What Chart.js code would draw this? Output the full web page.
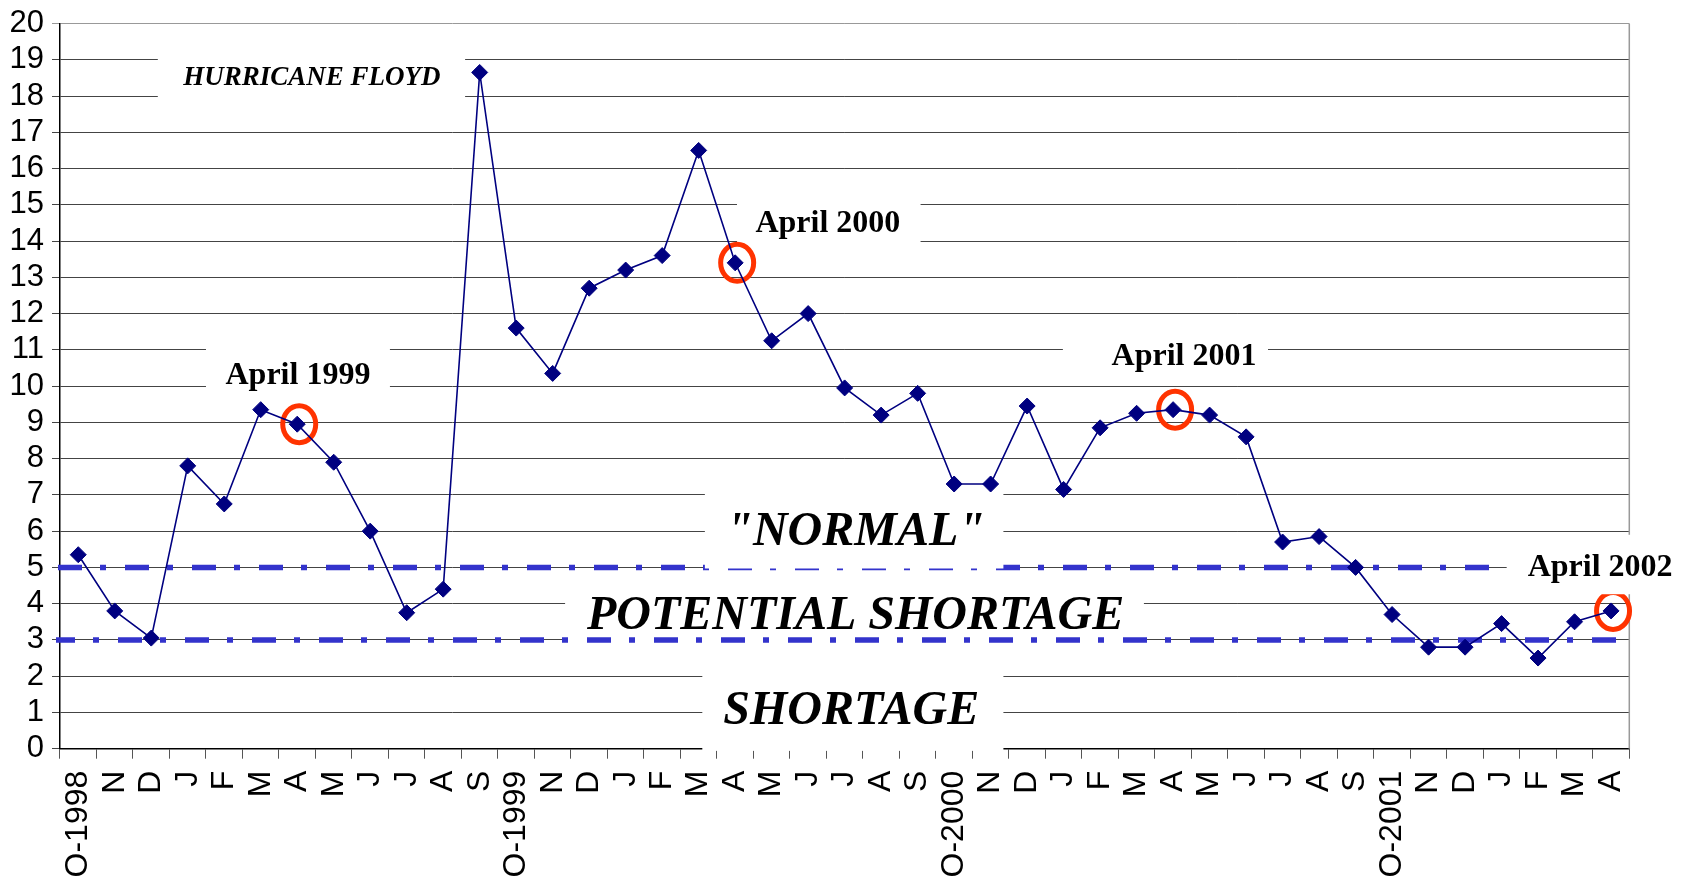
<!DOCTYPE html>
<html>
<head>
<meta charset="utf-8">
<script src="https://cdn.jsdelivr.net/npm/chart.js@4.4.1/dist/chart.umd.min.js"></script>
<style>
  html, body { margin: 0; padding: 0; background: #fff; }
</style>
</head>
<body>
<canvas id="myChart" width="1692" height="881"></canvas>
<script>
// months, Oct 1998 .. Apr 2002
const months = ["O-1998", "N", "D", "J", "F", "M", "A", "M", "J", "J", "A", "S",
  "O-1999", "N", "D", "J", "F", "M", "A", "M", "J", "J", "A", "S",
  "O-2000", "N", "D", "J", "F", "M", "A", "M", "J", "J", "A", "S",
  "O-2001", "N", "D", "J", "F", "M", "A"];

const inventory = [5.35, 3.8, 3.05, 7.8, 6.75, 9.35, 8.95, 7.9, 6.0, 3.75, 4.4, 18.65,
  11.6, 10.35, 12.7, 13.2, 13.6, 16.5, 13.4, 11.25, 12.0, 9.95, 9.2, 9.8,
  7.3, 7.3, 9.45, 7.15, 8.85, 9.25, 9.35, 9.2, 8.6, 5.7, 5.85, 5.0,
  3.7, 2.8, 2.8, 3.45, 2.5, 3.5, 3.8];

const yMin = 0;
const yMax = 20;
const yStep = 1;

// "normal" and "shortage" thresholds
const thresholds = [5, 3];

// april points that are circled
const circled = [6, 18, 30, 42];

const noteTexts = ["HURRICANE FLOYD", "April 1999", "April 2000", "April 2001", "April 2002",
  "\"NORMAL\"", "POTENTIAL SHORTAGE", "SHORTAGE"];

// where the notes sit (category index / value), and the white boxes behind them
const notes = [
  { i: 6.4, v: 18.5, font: "italic bold 27px 'Liberation Serif'" },
  { i: 6.02, v: 10.29, font: "bold 32px 'Liberation Serif'" },
  { i: 20.54, v: 14.47, font: "bold 32px 'Liberation Serif'" },
  { i: 30.3, v: 10.8, font: "bold 32px 'Liberation Serif'" },
  { i: 41.7, v: 4.98, font: "bold 32px 'Liberation Serif'" },
  { i: 21.3, v: 5.97, font: "italic bold 48px 'Liberation Serif'" },
  { i: 21.3, v: 3.63, font: "italic bold 48px 'Liberation Serif'" },
  { i: 21.18, v: 1.02, font: "italic bold 48px 'Liberation Serif'" }
];

const boxes = [
  { x0: 13.34, x1: 29.2, y0: 4.6, y1: 2.85, layer: 0 },   // potential shortage
  { x0: 17.1, x1: 25.35, y0: 2.35, y1: -0.06, layer: 0 }, // shortage
  { x0: 2.18, x1: 10.6, y0: 19.4, y1: 17.6, layer: 1 },   // floyd
  { x0: 3.5, x1: 8.54, y0: 11.35, y1: 9.6, layer: 1 },
  { x0: 18.05, x1: 23.08, y0: 15.35, y1: 13.6, layer: 1 },
  { x0: 26.98, x1: 32.6, y0: 11.45, y1: 10.2, layer: 1 },
  { x0: 17.17, x1: 25.35, y0: 7.2, y1: 4.97, layer: 1 },  // normal
  { x0: 39.14, x1: null, y0: 5.9, y1: 4.26, layer: 2 }    // april 2002
];

const overlays = {
  id: "overlays",
  beforeDatasetsDraw(chart) {
    const { ctx, chartArea: a, scales: { x, y } } = chart;
    const px = i => x.getPixelForValue(i);
    const py = v => y.getPixelForValue(v);
    const fillBox = b => {
      const l = px(b.x0);
      const r = b.x1 === null ? chart.width : px(b.x1);
      ctx.fillStyle = "#fff";
      ctx.fillRect(l, py(b.y0), r - l, py(b.y1) - py(b.y0));
    };
    ctx.save();

    // right frame of plot area
    ctx.strokeStyle = "#999";
    ctx.lineWidth = 1.5;
    ctx.beginPath();
    ctx.moveTo(a.right, a.top);
    ctx.lineTo(a.right, a.bottom);
    ctx.stroke();

    boxes.filter(b => b.layer === 0).forEach(fillBox);

    // dash-dot threshold lines
    const offsets = [-2, 5];
    thresholds.forEach((t, k) => {
      ctx.strokeStyle = "#3333CC";
      ctx.lineWidth = 5.5;
      ctx.setLineDash([24, 18, 6, 19]);
      ctx.lineDashOffset = offsets[k];
      ctx.beginPath();
      ctx.moveTo(a.left - 4, py(t));
      ctx.lineTo(a.right - 10, py(t));
      ctx.stroke();
    });
    ctx.setLineDash([]);

    boxes.filter(b => b.layer === 1).forEach(fillBox);

    circled.forEach(i => {
      ctx.strokeStyle = "#FF3300";
      ctx.lineWidth = 5;
      ctx.beginPath();
      ctx.ellipse(px(i) + 2, py(inventory[i]), 16.5, 18.5, 0, 0, Math.PI * 2);
      ctx.stroke();
    });

    boxes.filter(b => b.layer === 2).forEach(fillBox);

    ctx.fillStyle = "#000";
    ctx.textAlign = "center";
    ctx.textBaseline = "middle";
    notes.forEach((n, k) => {
      ctx.font = n.font;
      ctx.fillText(noteTexts[k], px(n.i), py(n.v));
    });
    ctx.restore();
  }
};

const config = {
  type: "line",
  data: {
    labels: months,
    datasets: [
      {
        data: inventory,
        borderColor: "#000080",
        borderWidth: 1.6,
        backgroundColor: "#000080",
        pointStyle: "rectRot",
        pointRadius: 8,
        pointBackgroundColor: "#000080",
        pointBorderColor: "#000080",
        pointBorderWidth: 1,
        tension: 0,
        fill: false
      }
    ]
  },
  options: {
    responsive: false,
    animation: false,
    layout: { padding: { top: 18.3, right: 62.7, left: 0, bottom: 0 } },
    plugins: { legend: { display: false }, tooltip: { enabled: false } },
    scales: {
      x: {
        type: "category",
        offset: true,
        grid: { offset: true, drawOnChartArea: false, drawTicks: true, tickLength: 10, color: "#555", lineWidth: 1 },
        border: { color: "#000", width: 1.5 },
        ticks: {
          autoSkip: false,
          minRotation: 90,
          maxRotation: 90,
          padding: 12,
          color: "#000",
          font: { family: "'Liberation Sans', Arial", size: 32 }
        },
        afterFit: s => { s.height = 132.3; }
      },
      y: {
        min: yMin,
        max: yMax,
        ticks: {
          stepSize: yStep,
          autoSkip: false,
          maxTicksLimit: 30,
          padding: 8,
          color: "#000",
          font: { family: "'Liberation Sans', Arial", size: 31, lineHeight: 1 }
        },
        grid: { color: ctx => ctx.tick && ctx.tick.value === yMax ? "#999" : "#444", lineWidth: 1, tickLength: 8 },
        border: { color: "#000", width: 1.5 },
        afterFit: s => { s.width = 60; }
      }
    }
  },
  plugins: [overlays]
};

const myChart = new Chart(document.getElementById("myChart"), config);
</script>
</body>
</html>
